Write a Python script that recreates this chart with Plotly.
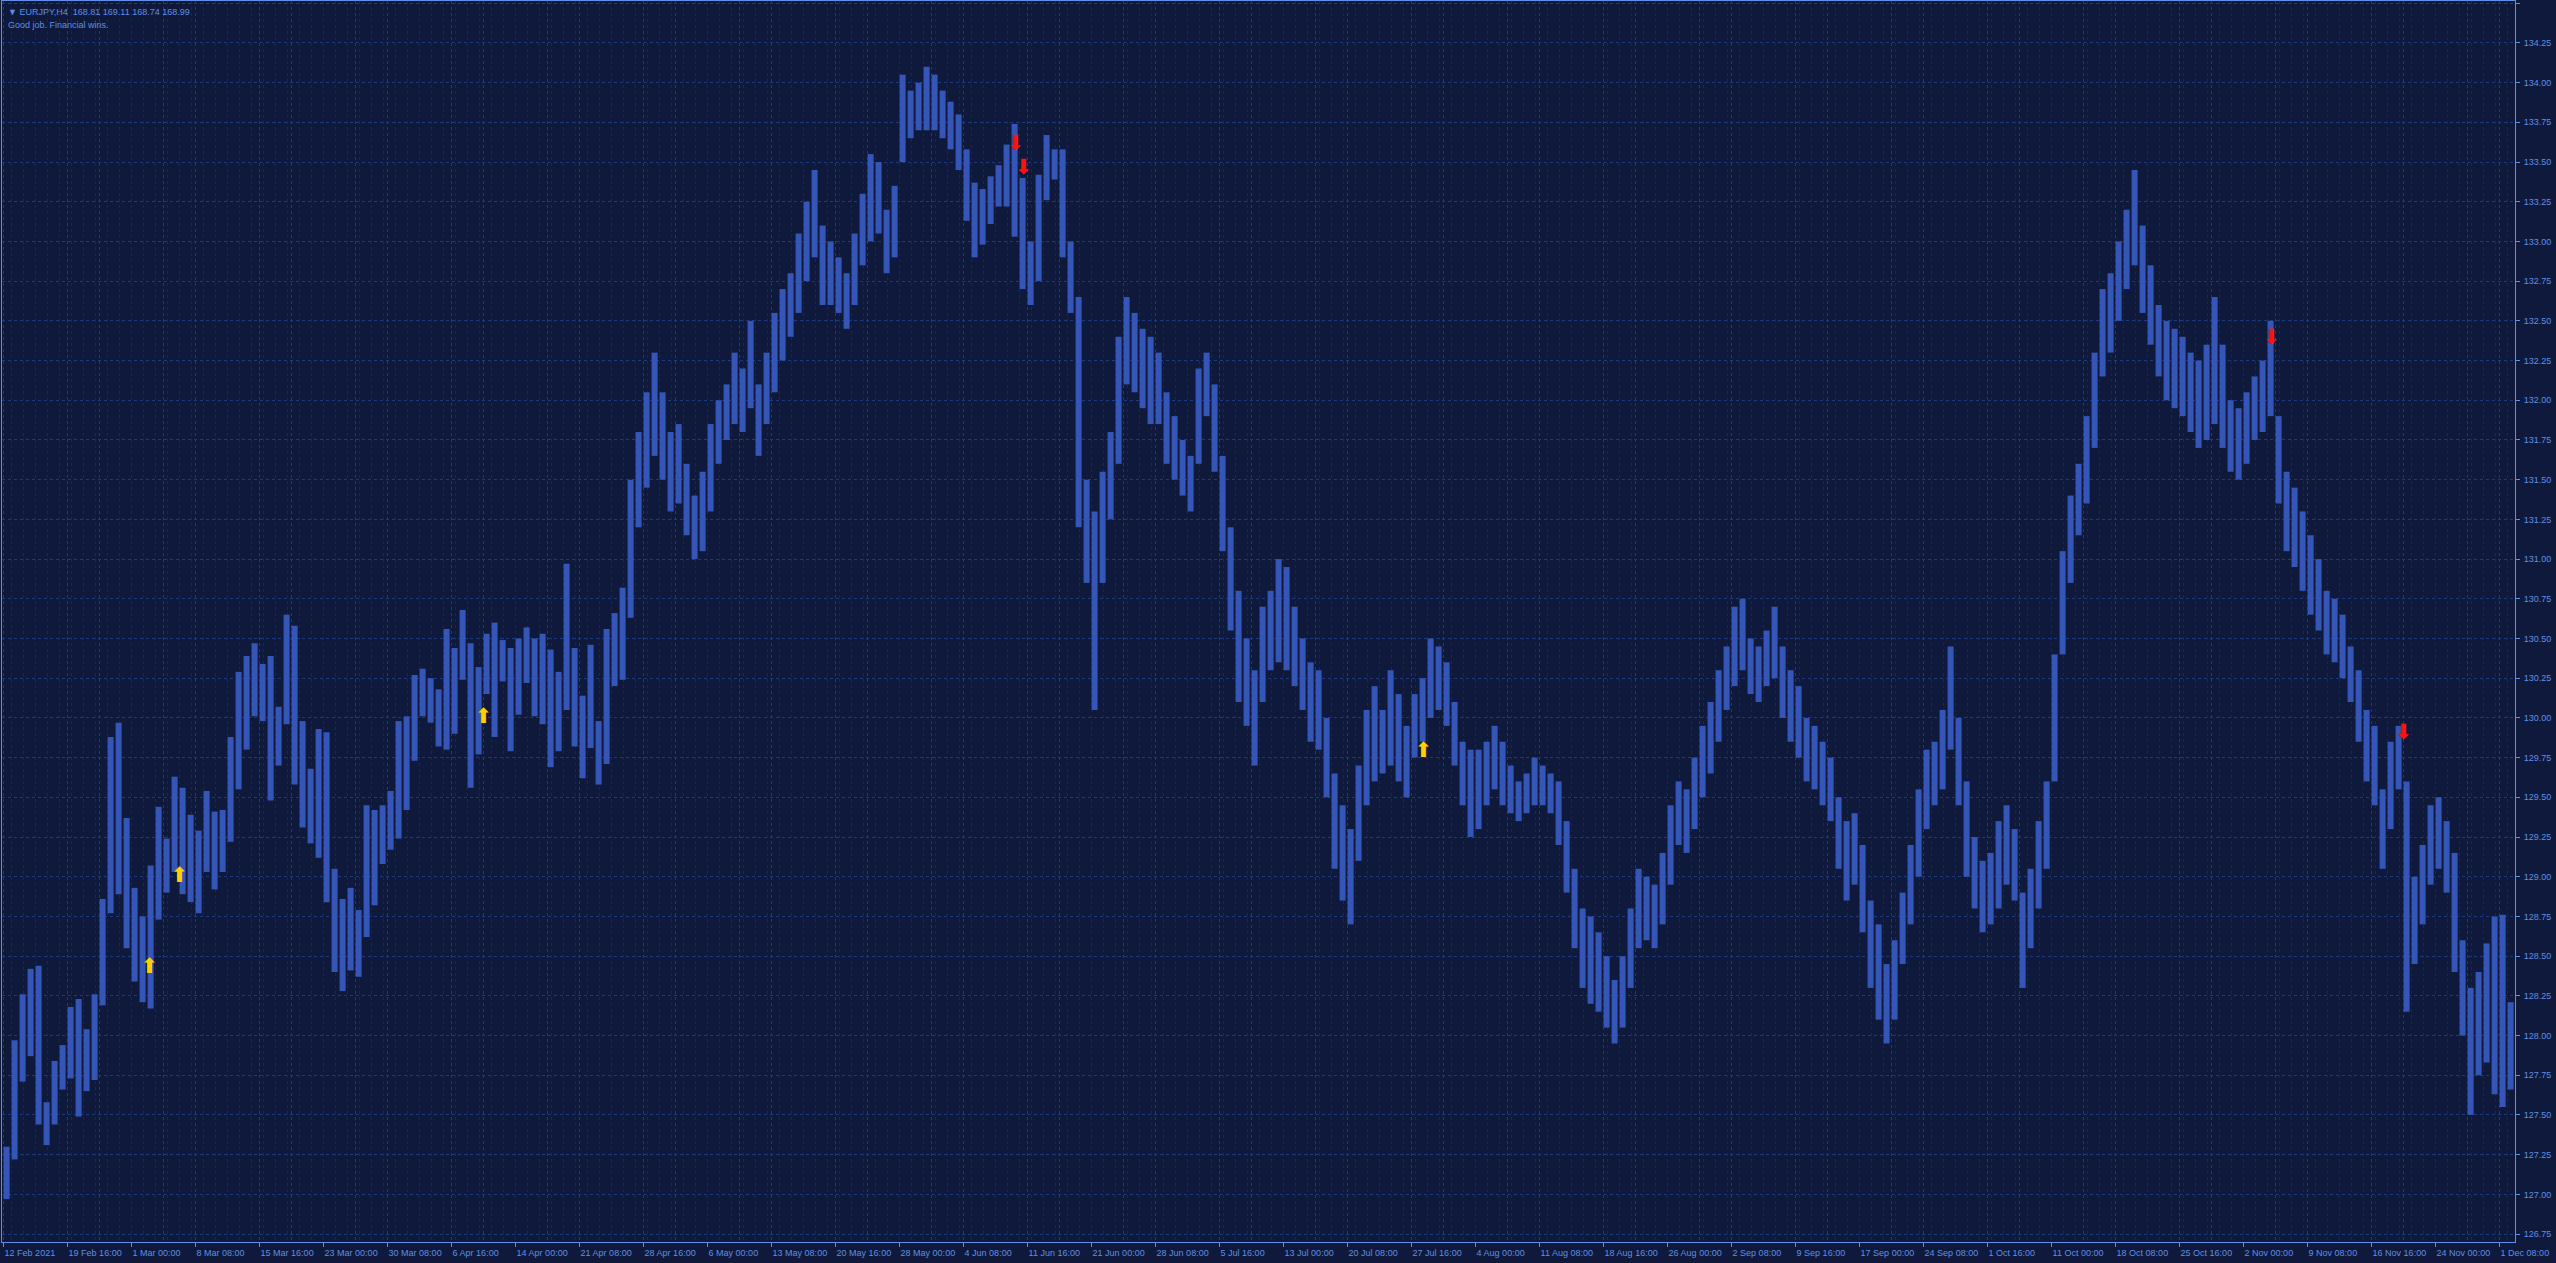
import plotly.graph_objects as go

# ---------------- data ----------------
symbol_line = "\u25bc EURJPY,H4&nbsp;&nbsp;168.81 169.11 168.74 168.99"
comment_line = "Good job. Financial wins."

BARS_PER_GROUP = 4      # each drawn bar summarises 4 H4 bars (high / low)
BARS_PER_LABEL = 32     # MT4 time label every 32 bars

grp_high = [
    127.30, 127.97, 128.26, 128.42, 128.44, 127.58, 127.84, 127.94, 128.18, 128.23, 128.04, 128.26, 128.86,
    129.88, 129.97, 129.37, 128.93, 128.75, 129.07, 129.44, 129.24, 129.63, 129.56, 129.39, 129.29, 129.54,
    129.41, 129.42, 129.88, 130.29, 130.39, 130.47, 130.34, 130.39, 130.07, 130.65, 130.58, 129.98, 129.68,
    129.93, 129.91, 129.05, 128.86, 128.93, 128.79, 129.45, 129.42, 129.45, 129.54, 129.98, 130.01, 130.27, 130.31,
    130.25, 130.18, 130.56, 130.44, 130.68, 130.47, 130.32, 130.53, 130.60, 130.49, 130.44, 130.50, 130.57,
    130.50, 130.53, 130.43, 130.29, 130.97, 130.44, 130.14, 130.46, 129.98, 130.56, 130.66, 130.82, 131.50,
    131.80,
    132.05, 132.30, 132.05, 131.80, 131.85, 131.60, 131.40, 131.55,
    131.85, 132.00, 132.10, 132.30, 132.20, 132.50, 132.10, 132.30,
    132.55, 132.70, 132.80, 133.05, 133.25, 133.45, 133.10, 133.00,
    132.90, 132.80, 133.05, 133.30, 133.55, 133.50, 133.20, 133.35,
    134.05, 133.95, 134.00, 134.10, 134.05, 133.95, 133.88, 133.80,
    133.58, 133.37, 133.33, 133.41, 133.48, 133.61, 133.74, 133.40,
    133.00, 133.42, 133.67, 133.58, 133.58, 133.00, 132.65, 131.50,
    131.30, 131.55, 131.80, 132.40, 132.65, 132.55, 132.45, 132.40,
    132.30, 132.05, 131.90, 131.75, 131.65, 132.20, 132.30, 132.10,
    131.65, 131.20, 130.80, 130.50, 130.30, 130.70, 130.80, 131.00,
    130.95, 130.70, 130.50, 130.35, 130.30, 130.00, 129.65, 129.45,
    129.30, 129.70, 130.05, 130.20, 130.05, 130.30, 130.15, 129.95,
    130.15, 130.25, 130.50, 130.45, 130.35, 130.10, 129.85, 129.80,
    129.80, 129.85, 129.95, 129.85, 129.70, 129.60, 129.65, 129.75,
    129.70, 129.65, 129.60, 129.35, 129.05, 128.80, 128.75, 128.65,
    128.50, 128.35, 128.50, 128.80, 129.05, 129.00, 128.95, 129.15,
    129.45, 129.60, 129.55, 129.75, 129.95, 130.10, 130.30, 130.45,
    130.70, 130.75, 130.50, 130.45, 130.55, 130.70, 130.45, 130.30,
    130.20, 130.00, 129.95, 129.85, 129.75, 129.50, 129.35, 129.40,
    129.20, 128.85, 128.70, 128.45, 128.60, 128.90, 129.20, 129.55,
    129.80, 129.85, 130.05, 130.45, 130.00, 129.60, 129.25, 129.10,
    129.15, 129.35, 129.45, 129.30, 128.90, 129.05, 129.35, 129.60,
    130.40, 131.05, 131.40, 131.60, 131.90, 132.30, 132.70, 132.80,
    133.00, 133.20, 133.45, 133.10, 132.85, 132.60, 132.50, 132.45,
    132.40, 132.30, 132.25, 132.35, 132.65, 132.35, 132.00, 131.95,
    132.05, 132.15, 132.25, 132.50, 131.90, 131.55, 131.45, 131.30,
    131.15, 131.00, 130.80, 130.75, 130.65, 130.45, 130.30, 130.05,
    129.95, 129.55, 129.85, 129.95, 129.60, 129.00, 129.20, 129.45,
    129.50, 129.35, 129.15, 128.60, 128.30, 128.40, 128.58, 128.75,
    128.76, 128.21,
]

grp_low = [
    126.97, 127.22, 127.71, 127.87, 127.44, 127.31, 127.44, 127.66, 127.73, 127.49, 127.65, 127.72, 128.19,
    128.77, 128.89, 128.55, 128.34, 128.21, 128.17, 128.73, 128.90, 129.03, 128.89, 128.84, 128.77, 129.03,
    128.92, 129.03, 129.22, 129.55, 129.80, 130.01, 129.98, 129.48, 129.70, 129.96, 129.58, 129.31, 129.21,
    129.12, 128.84, 128.40, 128.28, 128.41, 128.37, 128.62, 128.82, 129.08, 129.17, 129.24, 129.42, 129.73, 130.01,
    129.97, 129.82, 129.80, 129.90, 130.24, 129.56, 129.77, 130.15, 129.88, 130.23, 129.79, 130.02, 130.22,
    130.01, 129.96, 129.69, 129.79, 130.05, 129.82, 129.62, 129.81, 129.58, 129.71, 130.20, 130.24, 130.63,
    131.20,
    131.45, 131.65, 131.50, 131.30, 131.35, 131.15, 131.00, 131.05,
    131.30, 131.60, 131.75, 131.85, 131.80, 131.95, 131.65, 131.85,
    132.05, 132.25, 132.40, 132.55, 132.75, 132.90, 132.60, 132.60,
    132.55, 132.45, 132.60, 132.85, 133.00, 133.05, 132.80, 132.90,
    133.50, 133.65, 133.70, 133.70, 133.70, 133.65, 133.58, 133.45,
    133.13, 132.90, 132.98, 133.11, 133.22, 133.22, 133.03, 132.70,
    132.60, 132.75, 133.26, 133.39, 132.90, 132.55, 131.20, 130.85,
    130.05, 130.85, 131.25, 131.60, 132.10, 132.05, 131.95, 131.85,
    131.85, 131.60, 131.50, 131.40, 131.30, 131.60, 131.90, 131.55,
    131.05, 130.55, 130.10, 129.95, 129.70, 130.10, 130.30, 130.35,
    130.30, 130.20, 130.05, 129.85, 129.80, 129.50, 129.05, 128.85,
    128.70, 129.10, 129.45, 129.60, 129.65, 129.70, 129.60, 129.50,
    129.75, 129.85, 130.00, 130.05, 129.95, 129.70, 129.45, 129.25,
    129.30, 129.45, 129.55, 129.45, 129.40, 129.35, 129.40, 129.45,
    129.45, 129.40, 129.20, 128.90, 128.55, 128.30, 128.20, 128.15,
    128.05, 127.95, 128.05, 128.30, 128.55, 128.60, 128.55, 128.70,
    128.95, 129.20, 129.15, 129.30, 129.50, 129.65, 129.85, 130.05,
    130.20, 130.30, 130.15, 130.10, 130.20, 130.25, 130.00, 129.85,
    129.75, 129.60, 129.55, 129.45, 129.35, 129.05, 128.85, 128.95,
    128.65, 128.30, 128.10, 127.95, 128.10, 128.45, 128.70, 129.00,
    129.30, 129.45, 129.55, 129.80, 129.45, 129.00, 128.80, 128.65,
    128.70, 128.80, 128.95, 128.85, 128.30, 128.55, 128.80, 129.05,
    129.60, 130.40, 130.85, 131.15, 131.35, 131.70, 132.15, 132.30,
    132.50, 132.70, 132.85, 132.55, 132.35, 132.15, 132.00, 131.95,
    131.90, 131.80, 131.70, 131.75, 131.85, 131.70, 131.55, 131.50,
    131.60, 131.75, 131.80, 131.90, 131.35, 131.05, 130.95, 130.80,
    130.65, 130.55, 130.40, 130.35, 130.25, 130.10, 129.85, 129.60,
    129.45, 129.05, 129.30, 129.55, 128.15, 128.45, 128.70, 128.95,
    129.05, 128.90, 128.40, 128.00, 127.50, 127.75, 127.83, 127.63,
    127.55, 127.66,
]

time_labels = [
    "12 Feb 2021", "19 Feb 16:00", "1 Mar 00:00", "8 Mar 08:00", "15 Mar 16:00", "23 Mar 00:00",
    "30 Mar 08:00", "6 Apr 16:00", "14 Apr 00:00", "21 Apr 08:00", "28 Apr 16:00", "6 May 00:00",
    "13 May 08:00", "20 May 16:00", "28 May 00:00", "4 Jun 08:00", "11 Jun 16:00", "21 Jun 00:00",
    "28 Jun 08:00", "5 Jul 16:00", "13 Jul 00:00", "20 Jul 08:00", "27 Jul 16:00", "4 Aug 00:00",
    "11 Aug 08:00", "18 Aug 16:00", "26 Aug 00:00", "2 Sep 08:00", "9 Sep 16:00", "17 Sep 00:00",
    "24 Sep 08:00", "1 Oct 16:00", "11 Oct 00:00", "18 Oct 08:00", "25 Oct 16:00", "2 Nov 00:00",
    "9 Nov 08:00", "16 Nov 16:00", "24 Nov 00:00", "1 Dec 08:00",
]

# buy / sell signal arrows (bar index, price)
buy_bar = [73, 88, 240, 710]
buy_price = [128.43, 129.00, 130.00, 129.79]
sell_bar = [506, 510, 1134, 1200]
sell_price = [133.61, 133.46, 132.39, 129.90]

# ---------------- styling ----------------
BG = "#0f193b"
FG = "#5f8fe6"
BAR = "#3556b6"
GRID_BLUE = "#1e3a7c"
GRID_PURPLE = "#3a1172"
FONT = "Liberation Sans"

W, H = 2556, 1263
n_groups = len(grp_high)
n_bars = n_groups * BARS_PER_GROUP
gx = [g * BARS_PER_GROUP + (BARS_PER_GROUP - 1) / 2 for g in range(n_groups)]
grange = [h - l for h, l in zip(grp_high, grp_low)]
tick_pos = [k * BARS_PER_LABEL for k in range(len(time_labels))]
mid_pos = [k * BARS_PER_LABEL + BARS_PER_LABEL // 2 for k in range(len(time_labels))]

x_range = [-0.8, n_bars - 0.3]
y_range = [126.70, 134.514]

fig = go.Figure()

fig.add_trace(go.Bar(
    x=gx, y=grange, base=grp_low, width=3.0,
    marker=dict(color=BAR, line=dict(width=0)),
    hoverinfo="skip", showlegend=False,
))

fig.add_trace(go.Scatter(
    x=buy_bar, y=buy_price, mode="text", text=["\u2b06"] * len(buy_bar),
    textfont=dict(family="DejaVu Sans", size=21, color="#ffd000"),
    textposition="middle center", xaxis="x2", showlegend=False, hoverinfo="skip",
))
fig.add_trace(go.Scatter(
    x=sell_bar, y=sell_price, mode="text", text=["\u2b07"] * len(sell_bar),
    textfont=dict(family="DejaVu Sans", size=21, color="#ff1010"),
    textposition="middle center", xaxis="x2", showlegend=False, hoverinfo="skip",
))

fig.update_layout(
    width=W, height=H,
    margin=dict(l=2, r=41, t=1, b=21, pad=0),
    paper_bgcolor=BG, plot_bgcolor=BG,
    barmode="overlay",
    font=dict(family=FONT, size=9, color=FG),
    xaxis=dict(
        range=x_range, tickmode="array", tickvals=tick_pos, ticktext=time_labels,
        ticks="outside", ticklen=4, tickcolor=FG, tickwidth=1,
        ticklabelposition="outside right", ticklabelstandoff=2,
        tickfont=dict(family=FONT, size=9, color=FG),
        showline=True, linecolor=FG, linewidth=1, mirror=True,
        showgrid=True, gridcolor=GRID_BLUE, griddash="3px,3px", gridwidth=1,
        minor=dict(tickmode="array", tickvals=mid_pos, showgrid=True,
                   gridcolor=GRID_BLUE, griddash="3px,3px", ticks=""),
        zeroline=False, fixedrange=True,
    ),
    xaxis2=dict(
        range=x_range, overlaying="x", side="bottom",
        tickmode="linear", tick0=4, dtick=6,
        showticklabels=False, ticks="", showline=False,
        showgrid=True, gridcolor=GRID_PURPLE, griddash="3px,3px", gridwidth=1,
        zeroline=False, fixedrange=True,
    ),
    yaxis=dict(
        range=y_range, side="right", tickmode="linear", tick0=126.75, dtick=0.25,
        tickformat=".2f", ticks="outside", ticklen=4, tickcolor=FG,
        ticklabelstandoff=2,
        tickfont=dict(family=FONT, size=9, color=FG),
        showline=True, linecolor=FG, linewidth=1, mirror=True,
        showgrid=True, gridcolor=GRID_BLUE, griddash="3px,3px", gridwidth=1,
        zeroline=False, fixedrange=True,
    ),
    annotations=[
        dict(xref="paper", yref="paper", x=0, y=1, xanchor="left", yanchor="top",
             xshift=4, yshift=-4, text=symbol_line, showarrow=False,
             font=dict(family=FONT, size=9, color=FG)),
        dict(xref="paper", yref="paper", x=0, y=1, xanchor="left", yanchor="top",
             xshift=4, yshift=-17, text=comment_line, showarrow=False,
             font=dict(family=FONT, size=9, color=FG)),
    ],
)

fig.write_html(
    "out.html",
    config={"displayModeBar": False},
    post_script="document.body.style.margin='0';document.body.style.overflow='hidden';"
                "document.body.style.background='" + BG + "';",
)
